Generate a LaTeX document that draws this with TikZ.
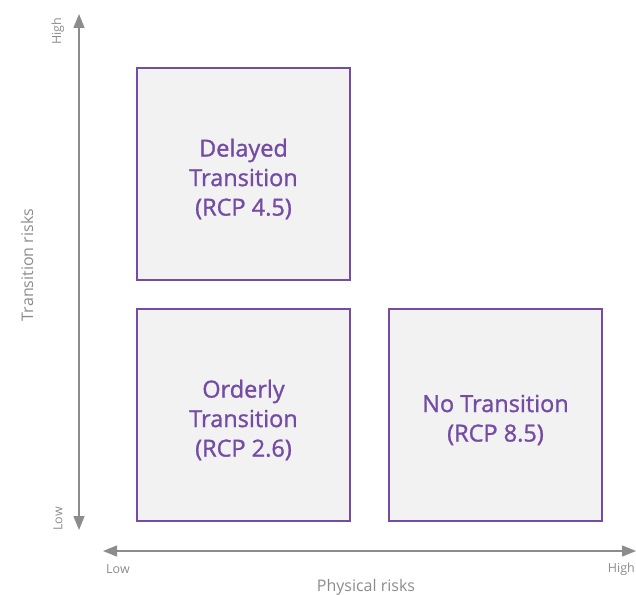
\documentclass[tikz,border=0pt]{standalone}
\usepackage{fontspec}
\setmainfont{Open Sans}
\newfontfamily\scenfont{Open Sans}[FakeBold=1.2]
\usetikzlibrary{arrows.meta}
\usetikzlibrary{positioning}

\definecolor{scenpurple}{RGB}{116,76,164}
\definecolor{scenfill}{RGB}{242,242,242}
\definecolor{axisgray}{RGB}{140,140,140}

\tikzset{
  scenario/.style={rectangle,draw=scenpurple,fill=scenfill,line width=2pt,
    minimum height=212pt,minimum width=213pt},
  scentext/.style={text=scenpurple,align=center,yshift=-5pt,
    font=\scenfont\fontsize{23.5}{29.5}\selectfont},
  axis/.style={draw=axisgray,line width=1.3pt,
    {Triangle[length=14pt,width=11pt,axisgray]}-{Triangle[length=14pt,width=11pt,axisgray]}},
  ticklabel/.style={text=axisgray,font=\fontsize{12.5}{14}\selectfont,inner sep=0pt},
  axislabel/.style={text=axisgray,font=\fontsize{16}{18}\selectfont,inner sep=0pt}
}

\begin{document}
\begin{tikzpicture}[x=1pt,y=-1pt]
\useasboundingbox (0,0) rectangle (636,594);

% scenarios
\node[scenario,label={[scentext]center:Delayed\\Transition\\(RCP 4.5)}] (delayed) at (243.5,174) {};
\node[scenario,label={[scentext]center:Orderly\\Transition\\(RCP 2.6)}] (orderly) at (243.5,415) {};
\node[scenario,label={[scentext]center:No Transition\\(RCP 8.5)}] (notrans) at (495.5,415) {};

% axes
\coordinate (vtop) at (79,14);
\coordinate (vbot) at (79,530);
\coordinate (hleft) at (103,551);
\coordinate (hright) at (636,551);

\draw[axis] (vbot) -- (vtop);
\draw[axis] (hleft) -- (hright);

\node[ticklabel,rotate=90] (vhigh) at (58,31) {High};
\node[ticklabel,rotate=90] (vlow) at (58,519) {Low};
\node[ticklabel] (hlow) at (118,569) {Low};
\node[ticklabel,anchor=east] (hhigh) at (635,569) {High};

\node[axislabel,rotate=90] (ylabel) at (27,265) {Transition risks};
\node[axislabel] (xlabel) at (366,587) {Physical risks};

\end{tikzpicture}
\end{document}
